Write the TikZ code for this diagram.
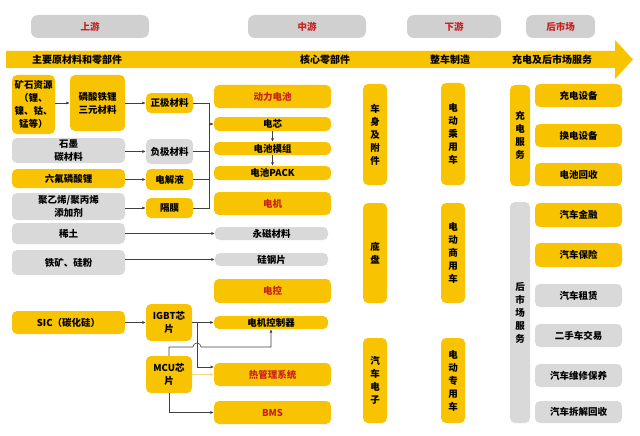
\documentclass[tikz,border=0pt]{standalone}
\usepackage{fontspec}
\setmainfont{Noto Sans CJK SC}
\usetikzlibrary{arrows.meta}
\definecolor{gold}{HTML}{F8C300}
\definecolor{lgray}{HTML}{D9D9D9}
\definecolor{hgray}{HTML}{D0D0D0}
\definecolor{dred}{HTML}{C8201E}
\definecolor{lnc}{HTML}{404040}
\definecolor{pale}{HTML}{F1DC80}
\tikzset{
 base/.style={rounded corners=5pt, inner sep=0pt, align=center, font=\fontsize{9.5}{13}\selectfont\bfseries},
 yb/.style={base, fill=gold},
 yr/.style={base, fill=gold, text=dred},
 gb/.style={base, fill=lgray},
 hb/.style={base, fill=hgray, text=dred, rounded corners=7pt},
 bt/.style={font=\fontsize{10}{12}\selectfont\bfseries, inner sep=0pt},
 ln/.style={draw=lnc, line width=0.6pt},
 arr/.style={ln, -{Latex[length=3.5pt,width=3pt]}},
}
\newcommand\bx[7]{\node[#1,minimum width=#5-#3,minimum height=#6-#4] (#2) at ({(#3+#5)/2},{(#4+#6)/2}) {#7};}
\begin{document}
\begin{tikzpicture}[x=1pt,y=-1pt]
\useasboundingbox (0,0) rectangle (640,436);
% headers
\bx{hb}{h1}{31}{15}{149}{38}{上游}
\bx{hb}{h2}{248}{15}{366}{38}{中游}
\bx{hb}{h3}{407}{15}{501}{38}{下游}
\bx{hb}{h4}{526}{15}{595}{38}{后市场}
% band
\fill[gold] (6,51) -- (615,51) -- (615,40) -- (633,59.5) -- (615,79) -- (615,68) -- (6,68) -- cycle;
\node[bt] (b1) at (77,59.5) {主要原材料和零部件};
\node[bt] (b2) at (325,59.5) {核心零部件};
\node[bt] (b3) at (450,59.5) {整车制造};
\node[bt] (b4) at (552,59.5) {充电及后市场服务};
% left column
\bx{yb}{ks}{12}{75}{55}{134}{矿石资源\\（锂、\\镍、钴、\\锰等）}
\bx{yb}{lt}{70}{75}{125}{131}{磷酸铁锂\\三元材料}
\bx{yb}{zj}{146}{93}{193}{113}{正极材料}
\bx{gb}{sm}{12}{138}{125}{163}{石墨\\碳材料}
\bx{gb}{fj}{146}{139}{193}{164}{负极材料}
\bx{yb}{lf}{12}{169}{125}{188}{六氟磷酸锂}
\bx{yb}{dj}{146}{169}{193}{190}{电解液}
\bx{gb}{jy}{12}{193}{125}{220}{聚乙烯/聚丙烯\\添加剂}
\bx{yb}{gm}{146}{198}{193}{218}{隔膜}
\bx{gb}{xt}{12}{223}{125}{244}{稀土}
\bx{gb}{tk}{12}{250}{125}{275}{铁矿、硅粉}
\bx{yb}{sic}{12}{311}{125}{334}{SIC（碳化硅）}
\bx{yb}{igbt}{146}{304}{192}{341}{IGBT芯\\片}
\bx{yb}{mcu}{146}{356}{192}{393}{MCU芯\\片}
% middle column
\bx{yr}{dc}{214}{85}{331}{108}{动力电池}
\bx{yb}{dx}{214}{117}{331}{131}{电芯}
\bx{yb}{mz}{214}{142}{331}{155}{电池模组}
\bx{yb}{pk}{214}{166}{331}{180}{电池PACK}
\bx{yr}{djm}{214}{192}{331}{215}{电机}
\bx{gb}{yc}{215}{227}{328}{240}{永磁材料}
\bx{gb}{gg}{215}{253}{328}{266}{硅钢片}
\bx{yr}{dk}{214}{279}{331}{303}{电控}
\bx{yb}{kz}{214}{316}{328}{329}{电机控制器}
\bx{yr}{rgl}{214}{363}{331}{386}{热管理系统}
\bx{yr}{bms}{214}{401}{331}{424}{BMS}
% column 3
\bx{yb}{cs}{363}{84}{387}{185}{车\\身\\及\\附\\件}
\bx{yb}{cy}{441}{83}{465}{185}{电\\动\\乘\\用\\车}
\bx{yb}{dp}{363}{203}{387}{303}{底\\盘}
\bx{yb}{sy}{441}{203}{465}{303}{电\\动\\商\\用\\车}
\bx{yb}{dz}{363}{338}{387}{423}{汽\\车\\电\\子}
\bx{yb}{zy}{441}{338}{465}{423}{电\\动\\专\\用\\车}
% column 4
\bx{yb}{cdfw}{510}{85}{530}{186}{充\\电\\服\\务}
\bx{yb}{cd1}{535}{84}{622}{107}{充电设备}
\bx{yb}{cd2}{535}{124}{622}{147}{换电设备}
\bx{yb}{cd3}{535}{163}{622}{186}{电池回收}
\bx{gb}{hsc}{510}{202}{530}{423}{后\\市\\场\\服\\务}
\bx{yb}{s1}{535}{203}{622}{227}{汽车金融}
\bx{yb}{s2}{535}{243}{622}{267}{汽车保险}
\bx{gb}{s3}{535}{284}{622}{307}{汽车租赁}
\bx{gb}{s4}{535}{324}{622}{347}{二手车交易}
\bx{gb}{s5}{535}{364}{622}{387}{汽车维修保养}
\bx{gb}{s6}{535}{401}{622}{423}{汽车拆解回收}
% connectors
\draw[arr] (ks.east |- lt.west) -- (lt.west);
\draw[arr] (lt.east |- zj.west) -- (zj.west);
\draw[arr] (sm.east |- fj.west) -- (fj.west);
\draw[arr] (lf.east |- dj.west) -- (dj.west);
\draw[arr] (jy.east |- gm.west) -- (gm.west);
\draw[arr] (xt.east) -- (xt.east -| yc.west);
\draw[arr] (tk.east |- gg.west) -- (gg.west);
\draw[arr] (sic.east |- igbt.west) -- (igbt.west);
\coordinate (mx) at (209,0);
\draw[ln] (zj.east) -- (zj.east -| mx) -- (gm.east -| mx) -- (gm.east);
\draw[ln] (fj.east) -- (fj.east -| mx);
\draw[ln] (dj.east) -- (dj.east -| mx);
\draw[arr] (dx.west -| mx) -- (dx.west);
\draw[arr] (dx.south) -- (mz.north);
\draw[arr] (mz.south) -- (pk.north);
\draw[arr] (igbt.east |- kz.west) -- (kz.west);
\coordinate (br) at (197,322.5);
\coordinate (rgin) at (214,367);
\draw[arr] (br) |- (rgin);
\coordinate (mt) at (169,347);
\draw[arr] (mcu.north -| mt) -- (mt) -- (193,347) arc (180:360:4) -- (kz.south |- mt) -- (kz.south);
\draw[draw=pale, line width=0.6pt, -{Latex[length=3.5pt,width=3pt]}] (mcu.east |- rgl.west) -- (rgl.west);
\draw[arr] (mcu.south -| mt) |- (bms.west);
\end{tikzpicture}
\end{document}
